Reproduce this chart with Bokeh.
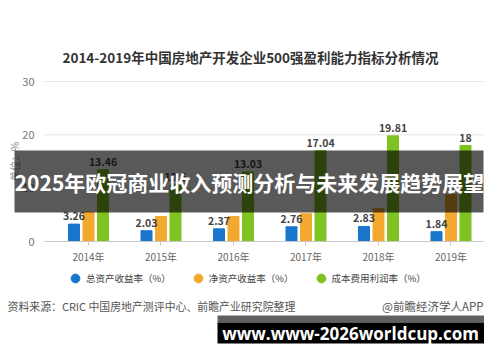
from bokeh.plotting import figure
from bokeh.models import (Range1d, FixedTicker, Label, BoxAnnotation, Legend, LegendItem,
                          ColumnDataSource)
from bokeh.core.properties import value
from bokeh.transform import dodge
from bokeh.embed import file_html
from bokeh.resources import INLINE

# ---- data ----
years = ["2014年", "2015年", "2016年", "2017年", "2018年", "2019年"]
roa = [3.26, 2.03, 2.37, 2.76, 2.83, 1.84]            # 总资产收益率
roe = [5.5, 4.7, 4.7, 5.2, 6.2, 8.8]                  # 净资产收益率 (unlabelled, estimated)
cost_profit = [13.46, 10.6, 13.03, 17.04, 19.81, 18]  # 成本费用利润率
series_names = ["总资产收益率（%）", "净资产收益率（%）", "成本费用利润率（%）"]
y_ticks = [0, 10, 20, 30]

title_text = "2014-2019年中国房地产开发企业500强盈利能力指标分析情况"
source_text = "资料来源：CRIC 中国房地产测评中心、前瞻产业研究院整理"
credit_text = "@前瞻经济学人APP"
banner_text = "2025年欧冠商业收入预测分析与未来发展趋势展望"
url_text = "www.www-2026worldcup.com"

colors = ["#1a76cc", "#f3a92f", "#7ec322"]
CJK = "Noto Sans CJK SC"

W, H = 484, 346
X_LO, X_HI = -1.2138, 5.4621      # whole canvas in x data units
Y_LO, Y_HI = -19.6875, 45.1875    # whole canvas in y data units
PLOT_X0, PLOT_X1 = -0.6069, 5.448 # plotting area extent

idx = list(range(len(years)))
src = ColumnDataSource(dict(
    i=idx, roa=roa, roe=roe, cp=cost_profit,
    roa_lbl=[f"{v:g}" for v in roa],
    cp_lbl=[f"{v:g}" for v in cost_profit],
))

p = figure(width=W, height=H, output_backend="svg", toolbar_location=None,
           x_range=Range1d(X_LO, X_HI), y_range=Range1d(Y_LO, Y_HI),
           min_border=0)
p.outline_line_color = None
p.background_fill_color = "white"
p.border_fill_color = "white"

# grid lines limited to the plotting area
p.xgrid.visible = False
p.ygrid.visible = False
grid_y = [t for t in y_ticks if t != 0]
p.segment(x0=[PLOT_X0] * len(grid_y), x1=[PLOT_X1] * len(grid_y), y0=grid_y, y1=grid_y,
          line_color="#e4e4e4", line_width=1)

off, w = 0.2, 0.152
p.vbar(x=dodge("i", -off), top="roa", width=w, source=src, color=colors[0])
p.vbar(x=dodge("i", 0.0), top="roe", width=w, source=src, color=colors[1])
p.vbar(x=dodge("i", off), top="cp", width=w, source=src, color=colors[2])

p.text(x=dodge("i", -off), y="roa", text="roa_lbl", source=src, y_offset=-4,
       text_align="center", text_baseline="bottom", text_font=value(CJK),
       text_font_size="10.5px", text_font_style="bold", text_color="#444444")
p.text(x=dodge("i", off), y="cp", text="cp_lbl", source=src, y_offset=-4,
       text_align="center", text_baseline="bottom", text_font=value(CJK),
       text_font_size="10.5px", text_font_style="bold", text_color="#444444")

# axes drawn inside the canvas at fixed locations
yax = p.yaxis[0]
yax.fixed_location = PLOT_X0
yax.ticker = FixedTicker(ticks=y_ticks)
yax.axis_line_color = None
yax.major_tick_line_color = None
yax.minor_tick_line_color = None
yax.major_label_text_font = CJK
yax.major_label_text_font_size = "11px"
yax.major_label_text_color = "#777777"
yax.major_label_standoff = 4
yax.axis_label = "单位：%"
yax.axis_label_text_font = CJK
yax.axis_label_text_font_size = "10px"
yax.axis_label_text_font_style = "normal"
yax.axis_label_text_color = "#888888"
yax.axis_label_standoff = -3
yax.bounds = (0, 30)

xax = p.xaxis[0]
xax.fixed_location = 0
xax.bounds = (PLOT_X0, PLOT_X1)
xax.ticker = FixedTicker(ticks=idx)
xax.major_label_overrides = {i: y for i, y in zip(idx, years)}
xax.axis_line_color = "#c8c8c8"
xax.major_tick_line_color = "#c8c8c8"
xax.major_tick_out = 4
xax.major_tick_in = 0
xax.minor_tick_line_color = None
xax.major_label_text_font = CJK
xax.major_label_text_font_size = "10px"
xax.major_label_text_color = "#666666"
xax.major_label_standoff = 3

# legend (marker renderers parked outside the visible range)
dummy = [p.scatter(x=[X_LO - 10], y=[0], marker="circle", color=c) for c in colors]
legend = Legend(items=[LegendItem(label=n, renderers=[r]) for n, r in zip(series_names, dummy)],
                orientation="horizontal", location=(64, 57),
                glyph_width=22, glyph_height=22, label_standoff=0, spacing=16,
                padding=0, margin=0, border_line_color=None, background_fill_alpha=0,
                label_text_font=CJK, label_text_font_size="9.5px", label_text_color="#444444")
p.add_layout(legend)

def lab(text, x, y, size, color, style="normal", align="left", font=CJK):
    p.add_layout(Label(x=x, y=y, x_units="screen", y_units="screen", text=text,
                       text_font=font, text_font_size=size, text_color=color,
                       text_font_style=style, text_align=align, text_baseline="middle"))

def box(left, right, top, bottom, color, alpha):
    p.add_layout(BoxAnnotation(left=left, right=right, top=top, bottom=bottom,
                               left_units="screen", right_units="screen",
                               top_units="screen", bottom_units="screen",
                               fill_color=color, fill_alpha=alpha, line_color=None))

lab(title_text, 250, 290, "13.5px", "#333333", "bold", "center")
lab(source_text, 7, 41, "10.9px", "#555555")
lab(credit_text, 483, 41, "11.5px", "#555555", align="right")

box(14, 483, 196, 134, "black", 0.65)
lab(banner_text, 249, 165, "21px", "white", "bold", "center")

box(217, 484, 31, 24, "#606060", 1)
box(217, 484, 24, 3, "black", 1)
lab(url_text, 350, 13, "17px", "white", "bold", "center", font="Open Sans")

open("out.html", "w").write(file_html(p, INLINE))
